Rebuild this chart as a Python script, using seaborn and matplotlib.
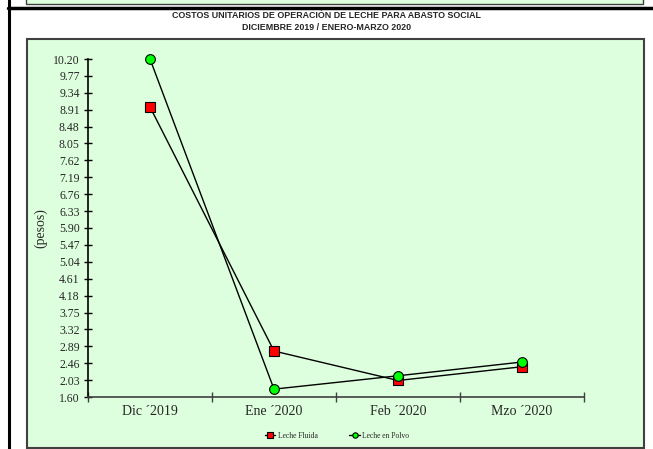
import numpy as np
import pandas as pd
import matplotlib
matplotlib.use("Agg")
import matplotlib.pyplot as plt
from matplotlib.patches import Rectangle
from matplotlib.lines import Line2D
import seaborn as sns

meses = ["Dic ´2019", "Ene ´2020", "Feb ´2020", "Mzo ´2020"]
leche_fluida = [8.98, 2.77, 2.02, 2.37]
leche_polvo = [10.20, 1.80, 2.14, 2.49]
yticks = [1.60, 2.03, 2.46, 2.89, 3.32, 3.75, 4.18, 4.61, 5.04, 5.47, 5.90,
          6.33, 6.76, 7.19, 7.62, 8.05, 8.48, 8.91, 9.34, 9.77, 10.20]

df = pd.DataFrame({"mes": meses, "fluida": leche_fluida, "polvo": leche_polvo})

sns.set_style("white")
plt.rcParams['font.family'] = ['Liberation Serif', 'DejaVu Serif']

fig = plt.figure(figsize=(6.53, 4.49), dpi=100)
W, H = 653, 449

def fx(px):
    return px / W

def fy(py):
    return 1 - py / H

# top strip and separators
fig.patches.append(Rectangle((fx(26), fy(4)), fx(643) - fx(26), fy(-5) - fy(4),
                             transform=fig.transFigure, facecolor="#ddffdd",
                             edgecolor="#404040", lw=1.0, zorder=-2))
fig.add_artist(Line2D([fx(8), 1], [fy(7.5), fy(7.5)], transform=fig.transFigure,
                      color="black", lw=2.5, zorder=-1))
fig.add_artist(Line2D([fx(9), fx(9)], [0, 1], transform=fig.transFigure,
                      color="black", lw=2.2, zorder=-1))
# chart box
fig.patches.append(Rectangle((fx(27), fy(448)), fx(644) - fx(27), fy(39) - fy(448),
                             transform=fig.transFigure, facecolor="#ddffdd",
                             edgecolor="#404040", lw=1.5, zorder=-2))

fig.text(0.5, fy(16), "COSTOS UNITARIOS DE OPERACIÓN DE LECHE PARA ABASTO SOCIAL",
         ha="center", va="center", fontsize=6.4, fontweight="bold",
         family="Liberation Sans")
fig.text(0.5, fy(27), "DICIEMBRE 2019 / ENERO-MARZO 2020",
         ha="center", va="center", fontsize=6.4, fontweight="bold",
         family="Liberation Sans")

ax = fig.add_axes([fx(88), fy(397), fx(584) - fx(88), fy(59) - fy(397)])
ax.patch.set_alpha(0)

sns.lineplot(data=df, x="mes", y="fluida", ax=ax, sort=False, color="black", lw=1.0,
             marker="s", markersize=7, markerfacecolor="#ff0000",
             markeredgecolor="black", markeredgewidth=0.8, label="Leche Fluida",
             clip_on=False)
sns.lineplot(data=df, x="mes", y="polvo", ax=ax, sort=False, color="black", lw=1.0,
             marker="o", markersize=7, markerfacecolor="#00ff00",
             markeredgecolor="black", markeredgewidth=0.8, label="Leche en Polvo",
             clip_on=False)

ax.set_ylim(1.60, 10.20)
ax.set_xlim(-0.5, 3.5)
ax.set_yticks(yticks)
ax.set_yticklabels([f"{v:.2f}" for v in yticks], fontsize=8.5)
ax.set_xticks([-0.5, 0.5, 1.5, 2.5, 3.5])
ax.set_xticklabels([])
ax.set_xticks(range(len(meses)), minor=True)
ax.set_xticklabels(meses, minor=True, fontsize=10)
ax.tick_params(axis="x", which="minor", bottom=True, length=0, pad=6)
ax.tick_params(axis="x", which="major", bottom=True, direction="inout", length=7,
               width=1, color="#404040")
ax.tick_params(axis="y", left=True, direction="inout", length=6, width=1,
               color="black", pad=3)
ax.set_xlabel("")
ax.set_ylabel("(pesos)", fontsize=10, labelpad=4)
for s in ["top", "right"]:
    ax.spines[s].set_visible(False)
ax.spines["left"].set_color("black")
ax.spines["bottom"].set_color("#404040")
ax.spines["left"].set_linewidth(1.2)
ax.spines["bottom"].set_linewidth(1.2)

ax.legend(loc="center", bbox_to_anchor=(fx(337), fy(436)),
          bbox_transform=fig.transFigure, ncol=2, frameon=False, fontsize=5.5,
          markerscale=0.55, handlelength=1.4, columnspacing=4.2, handletextpad=0.3)

fig.savefig("out.png", dpi=100)
